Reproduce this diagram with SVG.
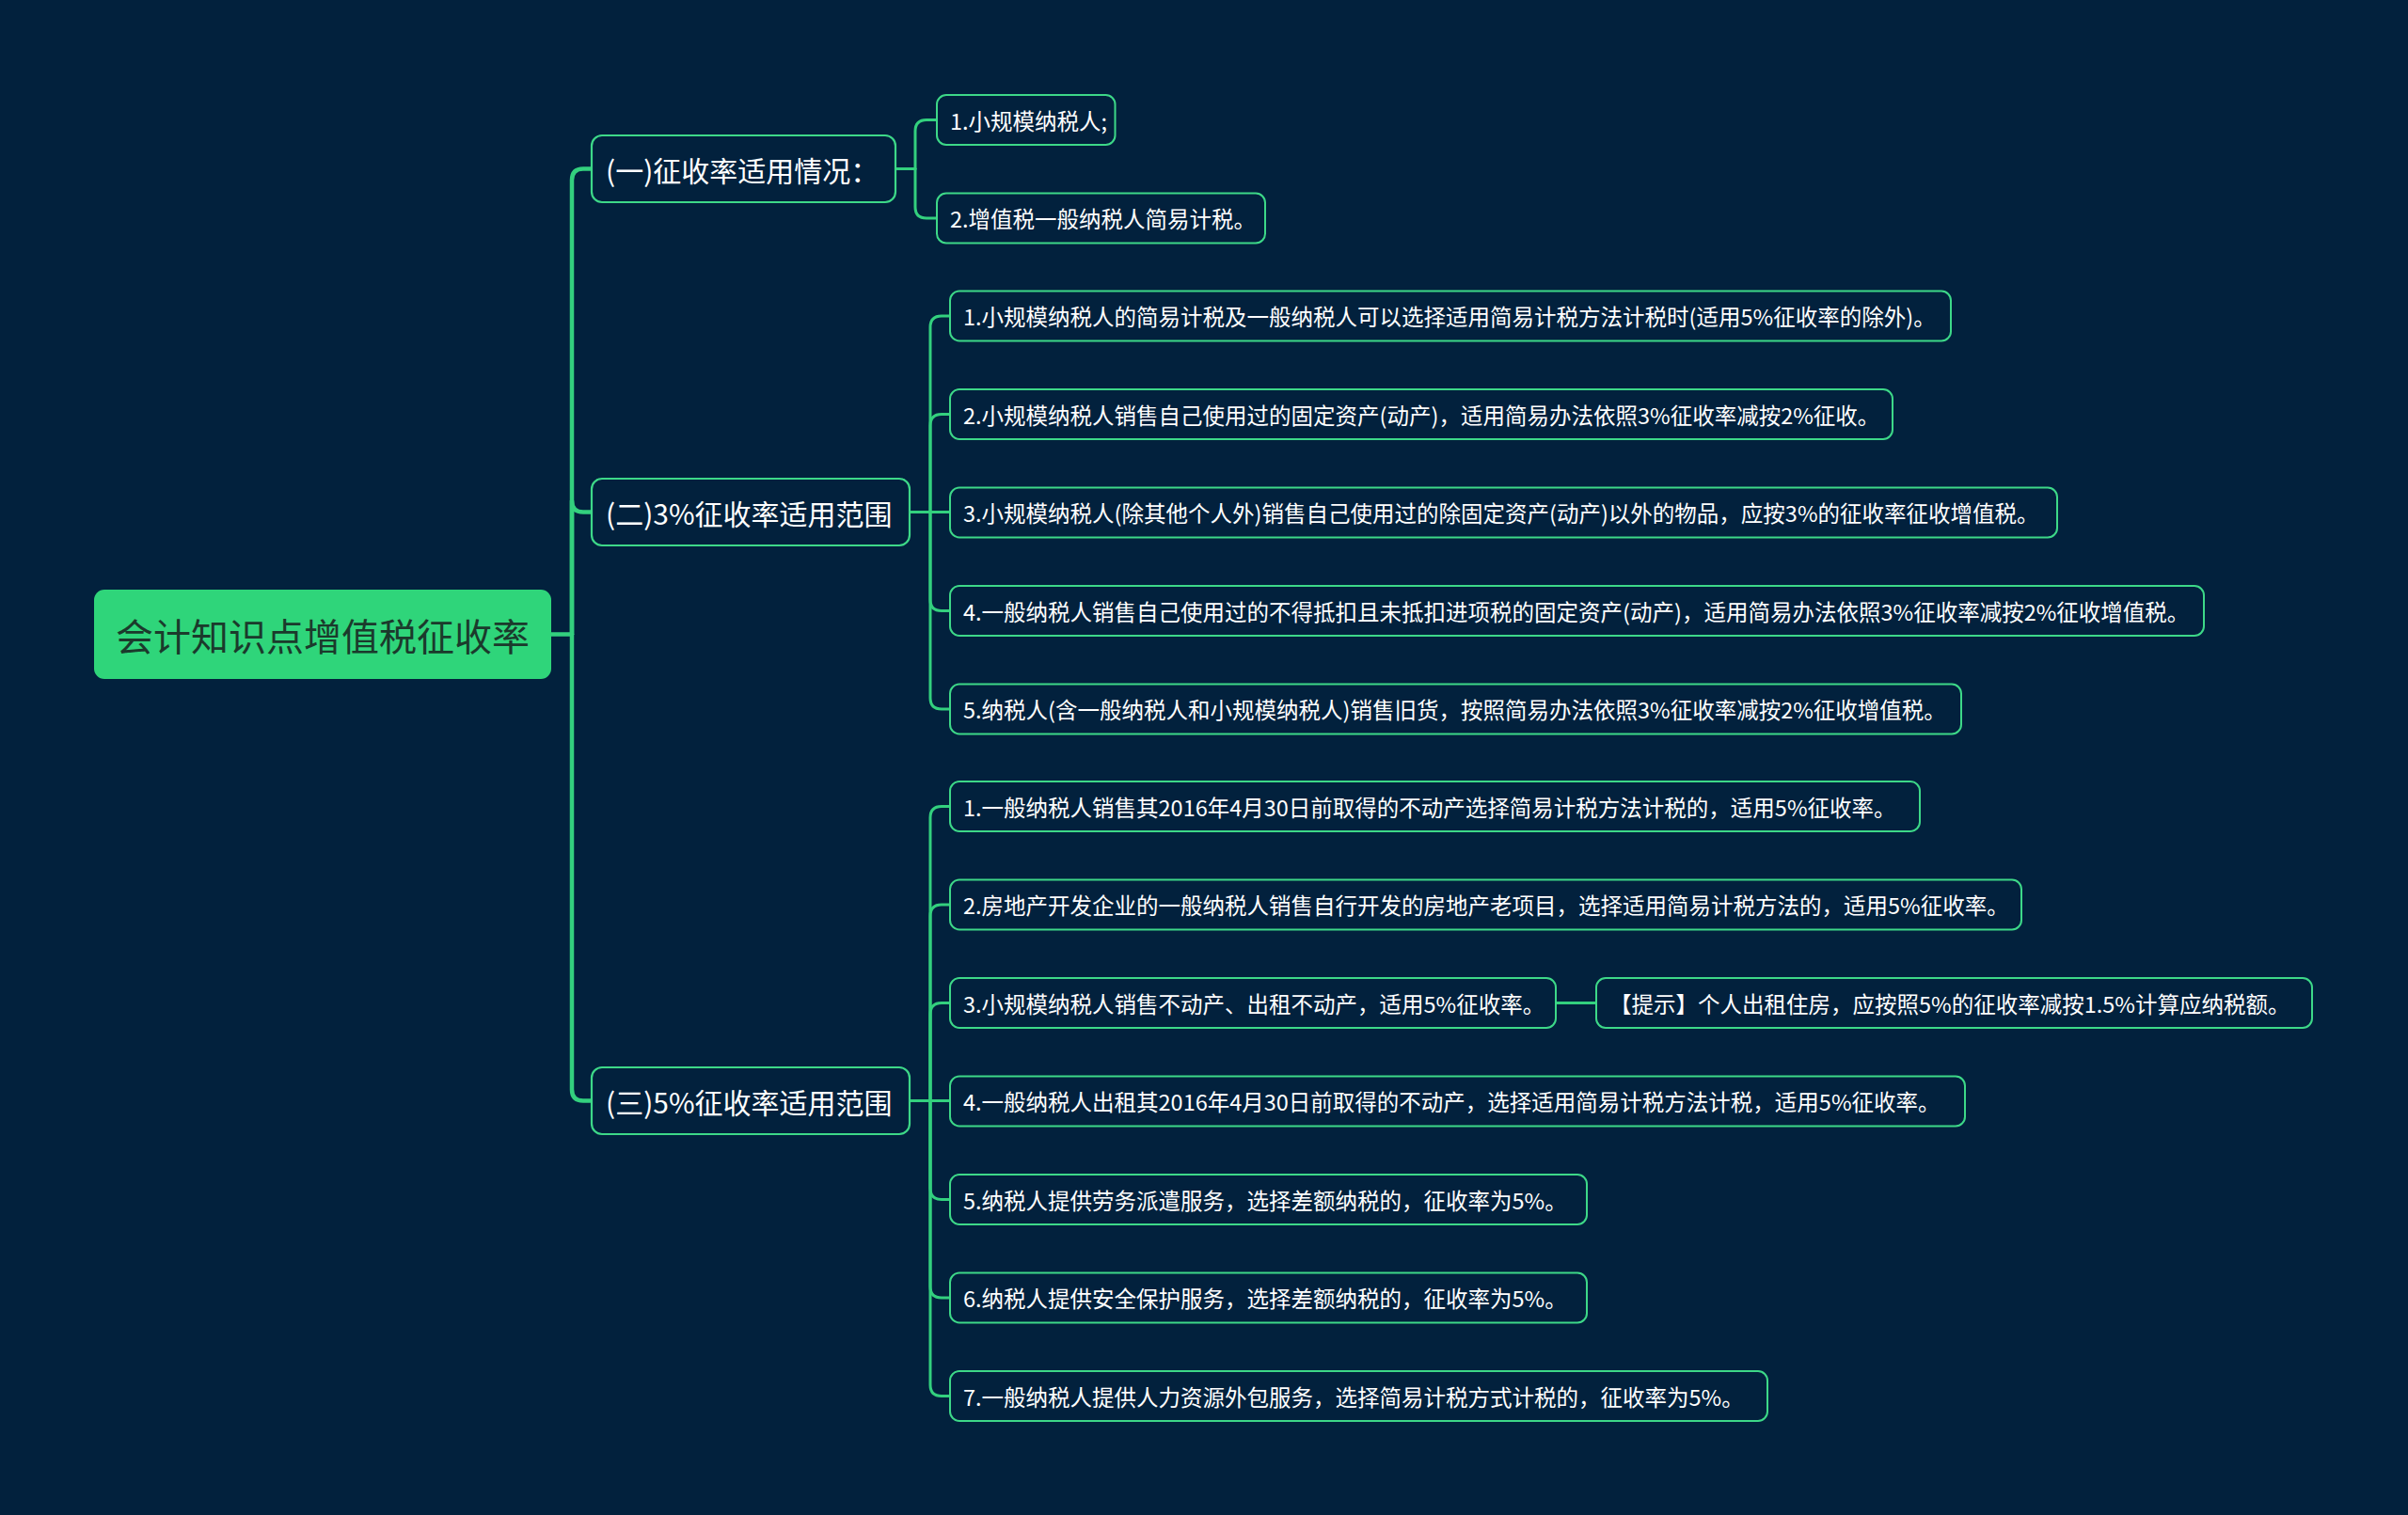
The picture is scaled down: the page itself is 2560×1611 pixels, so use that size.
<svg xmlns="http://www.w3.org/2000/svg" width="2560" height="1611" viewBox="0 0 2560 1611">
<style>
.bg{fill:#02213d}
.root rect{fill:#2fd57a}
.root text{fill:#1b3a2c;font-size:40px;text-anchor:middle}
.n1 rect{fill:#02213d;stroke:#3dd888;stroke-width:2.2}
.n1 text{fill:#ffffff;font-size:30px}
.n2 rect{fill:#02213d;stroke:#3dd888;stroke-width:2}
.n2 text{fill:#ffffff;font-size:23.5px}
text{font-family:"Noto Sans CJK SC","Noto Sans",sans-serif;dominant-baseline:central}
.c1{fill:none;stroke:#33d07e;stroke-width:4.5;stroke-linecap:round;stroke-linejoin:round}
.c2{fill:none;stroke:#33d07e;stroke-width:3;stroke-linecap:round;stroke-linejoin:round}
</style>
<rect class="bg" x="0" y="0" width="2560" height="1611"/>

<g id="connectors">
  <path class="c1" d="M586 674.5 H608"/>
  <path class="c1" d="M608 674.5 V191.5 Q608 179.5 620 179.5 H629"/>
  <path class="c1" d="M608 674.5 V532.5 Q608 544.5 620 544.5 H629"/>
  <path class="c1" d="M608 674.5 V1158.5 Q608 1170.5 620 1170.5 H629"/>

  <path class="c2" d="M952 179.5 H973"/>
  <path class="c2" d="M973 179.5 V139.5 Q973 127.5 985 127.5 H996"/>
  <path class="c2" d="M973 179.5 V220 Q973 232 985 232 H996"/>

  <path class="c2" d="M967 544.5 H989"/>
  <path class="c2" d="M989 544.5 V348 Q989 336 1001 336 H1010"/>
  <path class="c2" d="M989 544.5 V452.5 Q989 440.5 1001 440.5 H1010"/>
  <path class="c2" d="M989 544.5 H1010"/>
  <path class="c2" d="M989 544.5 V637.5 Q989 649.5 1001 649.5 H1010"/>
  <path class="c2" d="M989 544.5 V742 Q989 754 1001 754 H1010"/>

  <path class="c2" d="M967 1170.5 H989"/>
  <path class="c2" d="M989 1170.5 V869.5 Q989 857.5 1001 857.5 H1010"/>
  <path class="c2" d="M989 1170.5 V974 Q989 962 1001 962 H1010"/>
  <path class="c2" d="M989 1170.5 V1078.5 Q989 1066.5 1001 1066.5 H1010"/>
  <path class="c2" d="M989 1170.5 H1010"/>
  <path class="c2" d="M989 1170.5 V1263.5 Q989 1275.5 1001 1275.5 H1010"/>
  <path class="c2" d="M989 1170.5 V1368 Q989 1380 1001 1380 H1010"/>
  <path class="c2" d="M989 1170.5 V1472.5 Q989 1484.5 1001 1484.5 H1010"/>

  <path class="c2" d="M1654 1066.5 H1697"/>
</g>

<g id="root" class="root">
  <rect x="100" y="627" width="486" height="95" rx="11"/>
  <text x="343" y="674.5">会计知识点增值税征收率</text>
</g>

<g id="n1" class="n1">
  <rect x="629" y="144" width="323" height="71" rx="11"/>
  <text x="644" y="179.5">(一)征收率适用情况：</text>
</g>
<g id="n2" class="n1">
  <rect x="629" y="509" width="338" height="71" rx="11"/>
  <text x="644" y="544.5">(二)3%征收率适用范围</text>
</g>
<g id="n3" class="n1">
  <rect x="629" y="1135" width="338" height="71" rx="11"/>
  <text x="644" y="1170.5">(三)5%征收率适用范围</text>
</g>

<g id="n1-1" class="n2">
  <rect x="996" y="101" width="189.5" height="53" rx="10"/>
  <text x="1010" y="127.5">1.小规模纳税人;</text>
</g>
<g id="n1-2" class="n2">
  <rect x="996" y="205.5" width="349" height="53" rx="10"/>
  <text x="1010" y="232">2.增值税一般纳税人简易计税。</text>
</g>

<g id="n2-1" class="n2">
  <rect x="1010" y="309.5" width="1064" height="53" rx="10"/>
  <text x="1024" y="336">1.小规模纳税人的简易计税及一般纳税人可以选择适用简易计税方法计税时(适用5%征收率的除外)。</text>
</g>
<g id="n2-2" class="n2">
  <rect x="1010" y="414" width="1002" height="53" rx="10"/>
  <text x="1024" y="440.5">2.小规模纳税人销售自己使用过的固定资产(动产)，适用简易办法依照3%征收率减按2%征收。</text>
</g>
<g id="n2-3" class="n2">
  <rect x="1010" y="518.5" width="1177" height="53" rx="10"/>
  <text x="1024" y="545">3.小规模纳税人(除其他个人外)销售自己使用过的除固定资产(动产)以外的物品，应按3%的征收率征收增值税。</text>
</g>
<g id="n2-4" class="n2">
  <rect x="1010" y="623" width="1333" height="53" rx="10"/>
  <text x="1024" y="649.5">4.一般纳税人销售自己使用过的不得抵扣且未抵扣进项税的固定资产(动产)，适用简易办法依照3%征收率减按2%征收增值税。</text>
</g>
<g id="n2-5" class="n2">
  <rect x="1010" y="727.5" width="1075" height="53" rx="10"/>
  <text x="1024" y="754">5.纳税人(含一般纳税人和小规模纳税人)销售旧货，按照简易办法依照3%征收率减按2%征收增值税。</text>
</g>

<g id="n3-1" class="n2">
  <rect x="1010" y="831" width="1031" height="53" rx="10"/>
  <text x="1024" y="857.5">1.一般纳税人销售其2016年4月30日前取得的不动产选择简易计税方法计税的，适用5%征收率。</text>
</g>
<g id="n3-2" class="n2">
  <rect x="1010" y="935.5" width="1139" height="53" rx="10"/>
  <text x="1024" y="962">2.房地产开发企业的一般纳税人销售自行开发的房地产老项目，选择适用简易计税方法的，适用5%征收率。</text>
</g>
<g id="n3-3" class="n2">
  <rect x="1010" y="1040" width="644" height="53" rx="10"/>
  <text x="1024" y="1066.5">3.小规模纳税人销售不动产、出租不动产，适用5%征收率。</text>
</g>
<g id="n3-3-1" class="n2">
  <rect x="1697" y="1040" width="761" height="53" rx="10"/>
  <text x="1711" y="1066.5">【提示】个人出租住房，应按照5%的征收率减按1.5%计算应纳税额。</text>
</g>
<g id="n3-4" class="n2">
  <rect x="1010" y="1144.5" width="1079" height="53" rx="10"/>
  <text x="1024" y="1171">4.一般纳税人出租其2016年4月30日前取得的不动产，选择适用简易计税方法计税，适用5%征收率。</text>
</g>
<g id="n3-5" class="n2">
  <rect x="1010" y="1249" width="677" height="53" rx="10"/>
  <text x="1024" y="1275.5">5.纳税人提供劳务派遣服务，选择差额纳税的，征收率为5%。</text>
</g>
<g id="n3-6" class="n2">
  <rect x="1010" y="1353.5" width="677" height="53" rx="10"/>
  <text x="1024" y="1380">6.纳税人提供安全保护服务，选择差额纳税的，征收率为5%。</text>
</g>
<g id="n3-7" class="n2">
  <rect x="1010" y="1458" width="869" height="53" rx="10"/>
  <text x="1024" y="1484.5">7.一般纳税人提供人力资源外包服务，选择简易计税方式计税的，征收率为5%。</text>
</g>
</svg>
